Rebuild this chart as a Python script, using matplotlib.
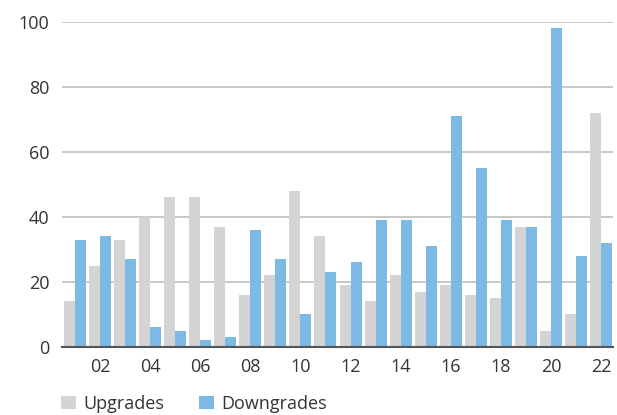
import numpy as np
import matplotlib.pyplot as plt

plt.rcParams['font.family'] = ['Open Sans', 'DejaVu Sans']

years = list(range(2001, 2023))
upgrades = [14, 25, 33, 40, 46, 46, 37, 16, 22, 48, 34, 19, 14, 22, 17, 19, 16, 15, 37, 5, 10, 72]
downgrades = [33, 34, 27, 6, 5, 2, 3, 36, 27, 10, 23, 26, 39, 39, 31, 71, 55, 39, 37, 98, 28, 32]
tick_labels = [f"{y % 100:02d}" for y in years]

grey = "#d4d4d4"
blue = "#7db9e5"

fig = plt.figure(figsize=(6.17, 4.15), dpi=100)
ax = fig.add_axes([0.1005, 0.1639, 0.893, 0.7831])

x = np.arange(len(years))
w = 0.44
ax.bar(x - w / 2, upgrades, width=w, color=grey, label="Upgrades", zorder=3)
ax.bar(x + w / 2, downgrades, width=w, color=blue, label="Downgrades", zorder=3)

ax.set_xlim(-0.52, 21.48)
ax.set_ylim(0, 100)
ax.set_yticks([0, 20, 40, 60, 80, 100])
ax.set_xticks(x[1::2])
ax.set_xticklabels(tick_labels[1::2])
ax.grid(axis="y", color="#c8c8c8", linewidth=1.4, zorder=0)

for s in ["top", "right", "left"]:
    ax.spines[s].set_visible(False)
ax.spines["bottom"].set_color("#555555")
ax.spines["bottom"].set_linewidth(1.5)
ax.spines["bottom"].set_zorder(4)

ax.tick_params(axis="both", length=0, labelsize=13, labelcolor="#333333")
ax.tick_params(axis="x", pad=8)
ax.tick_params(axis="y", pad=9)

fig.legend(loc="center left", bbox_to_anchor=(0.0989, 0.027), ncol=2, frameon=False,
           fontsize=13, handlelength=0.85, handleheight=0.8, handletextpad=0.4,
           columnspacing=1.9, borderpad=0, borderaxespad=0, labelcolor="#333333")

fig.savefig("out.png", dpi=100)
